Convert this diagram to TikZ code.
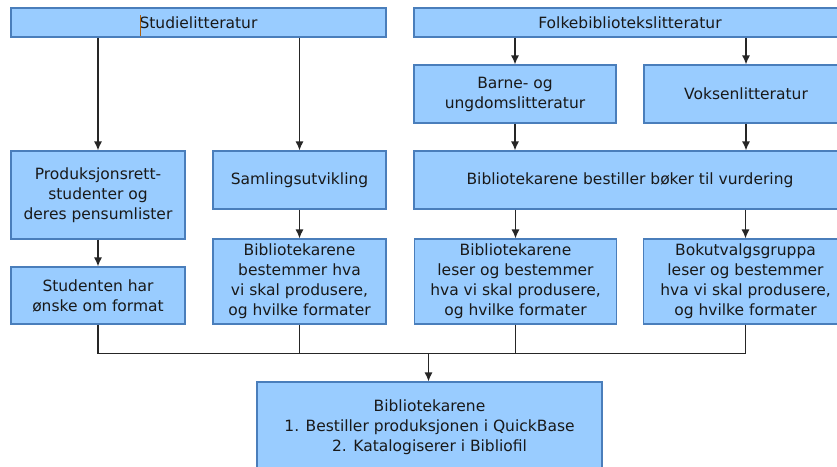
\documentclass[tikz,border=0pt]{standalone}
\usepackage{fontspec}
\setmainfont{DejaVu Sans}
\usetikzlibrary{arrows.meta}
\definecolor{boxfill}{HTML}{99CCFF}
\definecolor{boxline}{HTML}{4A7EBB}
\definecolor{caret}{HTML}{B0600A}
\tikzset{
  box/.style={draw=boxline, fill=boxfill, line width=1.1pt, align=center, inner sep=0pt,
    font=\fontsize{15.5}{20}\selectfont, text=black!90},
  conn/.style={draw=black!85, line width=1.4pt},
  arr/.style={conn, -{Latex[length=9pt,width=8pt]}}
}
\begin{document}
\begin{tikzpicture}[x=1pt,y=-1pt]
\useasboundingbox (0,0) rectangle (837,466);
\clip (0,0) rectangle (837,466);
\fill[white] (0,0) rectangle (837,466);

\node[box, minimum width=375pt, minimum height=29pt] (stud) at (198.5,22.5) {Studielitteratur};
\node[box, minimum width=432pt, minimum height=29pt] (folk) at (630,22.5) {Folkebibliotekslitteratur};
\node[box, minimum width=202pt, minimum height=58pt] (barne) at (515,94) {Barne- og\\ungdomslitteratur};
\node[box, minimum width=204pt, minimum height=58pt] (voks) at (746,94) {Voksenlitteratur};
\node[box, minimum width=174pt, minimum height=88pt] (prod) at (98,195) {Produksjonsrett-\\studenter og\\deres  pensumlister};
\node[box, minimum width=173pt, minimum height=58pt] (saml) at (299.5,180) {Samlingsutvikling};
\node[box, minimum width=432pt, minimum height=58pt] (best) at (630,180) {Bibliotekarene bestiller bøker til vurdering};
\node[box, minimum width=174pt, minimum height=57pt] (studt) at (98,295.5) {Studenten har\\ønske om format};
\node[box, minimum width=173pt, minimum height=85pt] (bib1) at (299.5,281.5) {Bibliotekarene\\bestemmer hva\\vi skal produsere,\\og hvilke formater};
\node[box, minimum width=202pt, minimum height=85pt] (bib2) at (515.5,281.5) {Bibliotekarene\\leser og bestemmer\\hva vi skal produsere,\\og hvilke formater};
\node[box, minimum width=204pt, minimum height=85pt] (bok) at (745.5,281.5) {Bokutvalgsgruppa\\leser og bestemmer\\hva vi skal produsere,\\og hvilke formater};
\node[box, minimum width=345pt, minimum height=90pt] (bot) at (429.5,427) {Bibliotekarene\\1. Bestiller produksjonen i QuickBase\\2. Katalogiserer i Bibliofil};

% text caret
\draw[caret, line width=0.8pt] (140,15) -- (140,36);

\coordinate (j) at (428.5,353.5);

\draw[arr] (stud.south -| prod.north) -- (prod.north);
\draw[arr] (stud.south -| saml.north) -- (saml.north);
\draw[arr] (folk.south -| barne.north) -- (barne.north);
\draw[arr] (folk.south -| voks.north) -- (voks.north);
\draw[arr] (prod.south) -- (studt.north);
\draw[arr] (saml.south) -- (bib1.north);
\draw[arr] (barne.south) -- (barne.south |- best.north);
\draw[arr] (voks.south) -- (voks.south |- best.north);
\draw[arr] (best.south -| bib2.north) -- (bib2.north);
\draw[arr] (best.south -| bok.north) -- (bok.north);

\draw[conn] (studt.south) |- (j);
\draw[conn] (bok.south) |- (j);
\draw[conn] (bib1.south) -- (bib1.south |- j);
\draw[conn] (bib2.south) -- (bib2.south |- j);
\draw[arr] (j) -- (j |- bot.north);
\end{tikzpicture}
\end{document}
